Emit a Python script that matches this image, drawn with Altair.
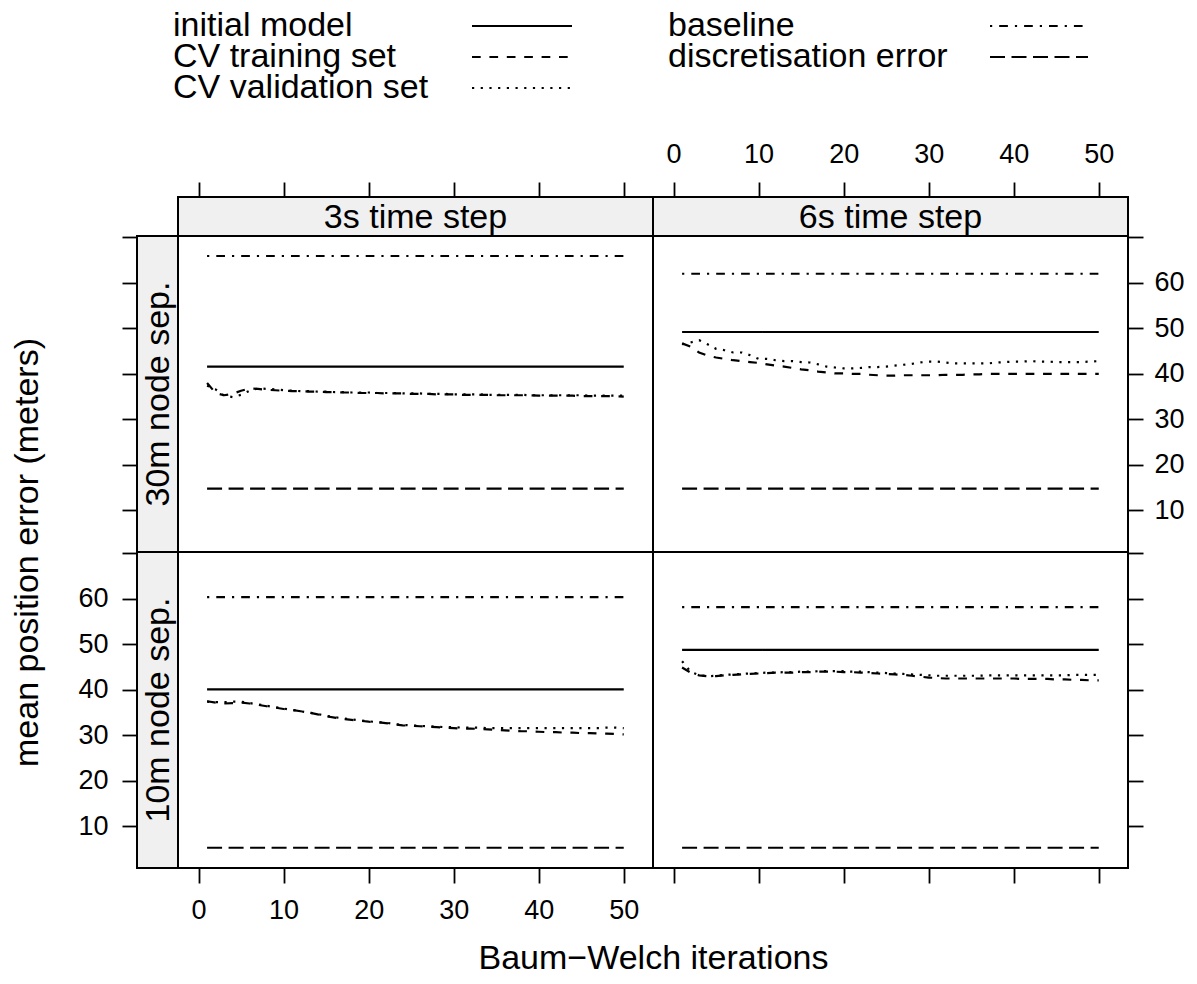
import altair as alt
import pandas as pd

FONT = "Liberation Sans"

iterations = list(range(1, 51))
time_steps = ["3s time step", "6s time step"]
node_seps = ["30m node sep.", "10m node sep."]
series_names = ["initial model", "CV training set", "CV validation set",
                "baseline", "discretisation error"]
dash_styles = [[1, 0], [8.7, 8.7], [2.2, 6.5], [2.2, 7, 8.7, 7], [15, 6.5]]

x_ticks = [0, 10, 20, 30, 40, 50]
y_ticks = [10, 20, 30, 40, 50, 60, 70]

# constants per panel, order: (3s,30m), (6s,30m), (3s,10m), (6s,10m)
initial_model = [41.6, 49.2, 40.1, 48.8]
baseline = [65.9, 62.0, 60.4, 58.2]
discretisation_error = [14.8, 14.8, 5.3, 5.3]

cv_train_3s_30m = [38.0, 35.8, 35.3, 35.6, 36.3, 36.8, 36.7, 36.5, 36.4, 36.3,
                   36.2, 36.2, 36.1, 36.1, 36.0, 36.0, 35.9, 35.9, 35.8, 35.8,
                   35.8, 35.7, 35.7, 35.7, 35.6, 35.6, 35.6, 35.5, 35.5, 35.5,
                   35.4, 35.4, 35.4, 35.4, 35.3, 35.3, 35.3, 35.3, 35.3, 35.2,
                   35.2, 35.2, 35.2, 35.2, 35.1, 35.1, 35.1, 35.1, 35.1, 35.0]
cv_valid_3s_30m = [37.4, 36.6, 35.2, 34.9, 35.4, 36.3, 36.8, 36.7, 36.6, 36.4,
                   36.3, 36.2, 36.2, 36.1, 36.1, 36.0, 36.0, 35.9, 35.9, 35.9,
                   35.8, 35.8, 35.8, 35.7, 35.7, 35.7, 35.6, 35.6, 35.6, 35.5,
                   35.5, 35.5, 35.5, 35.4, 35.4, 35.4, 35.4, 35.4, 35.3, 35.3,
                   35.3, 35.3, 35.3, 35.3, 35.3, 35.2, 35.2, 35.2, 35.2, 35.2]
cv_train_6s_30m = [46.7, 46.0, 44.7, 44.0, 43.6, 43.3, 43.0, 42.8, 42.6, 42.4,
                   42.1, 41.8, 41.6, 41.3, 41.0, 40.8, 40.5, 40.3, 40.1, 40.1,
                   40.0, 40.0, 39.8, 39.7, 39.6, 39.6, 39.7, 39.7, 39.7, 39.7,
                   39.7, 39.8, 39.8, 39.8, 39.9, 39.9, 40.0, 40.0, 40.0, 40.0,
                   40.0, 40.0, 40.0, 40.0, 40.0, 40.0, 40.0, 40.0, 40.0, 40.0]
cv_valid_6s_30m = [46.5, 46.9, 47.4, 46.5, 45.5, 45.2, 44.7, 44.7, 44.1, 43.3,
                   43.3, 43.0, 42.8, 42.8, 42.6, 42.5, 42.1, 41.6, 41.4, 41.2,
                   41.2, 41.3, 41.5, 41.5, 41.6, 41.8, 42.0, 42.2, 42.5, 42.7,
                   42.7, 42.5, 42.3, 42.3, 42.3, 42.3, 42.3, 42.5, 42.6, 42.7,
                   42.7, 42.8, 42.7, 42.7, 42.6, 42.6, 42.6, 42.6, 42.7, 42.8]
cv_train_3s_10m = [37.5, 37.2, 37.0, 37.1, 37.2, 37.0, 36.7, 36.4, 36.1, 35.8,
                   35.6, 35.3, 35.0, 34.6, 34.2, 33.9, 33.6, 33.4, 33.2, 33.0,
                   32.9, 32.7, 32.4, 32.2, 32.1, 32.0, 31.9, 31.8, 31.7, 31.6,
                   31.5, 31.5, 31.4, 31.3, 31.2, 31.1, 31.0, 30.9, 30.9, 30.8,
                   30.7, 30.7, 30.6, 30.6, 30.5, 30.5, 30.4, 30.4, 30.3, 30.2]
cv_valid_3s_10m = [37.4, 37.3, 37.3, 37.4, 37.4, 37.1, 36.8, 36.5, 36.2, 35.9,
                   35.6, 35.3, 35.0, 34.7, 34.3, 34.0, 33.7, 33.5, 33.3, 33.1,
                   32.9, 32.8, 32.5, 32.3, 32.2, 32.1, 32.0, 31.9, 31.8, 31.8,
                   31.7, 31.7, 31.7, 31.6, 31.6, 31.6, 31.6, 31.6, 31.6, 31.6,
                   31.6, 31.6, 31.6, 31.6, 31.6, 31.6, 31.6, 31.7, 31.7, 31.6]
cv_train_6s_10m = [44.9, 43.8, 43.2, 43.0, 43.0, 43.2, 43.3, 43.4, 43.5, 43.6,
                   43.7, 43.8, 43.8, 43.8, 43.9, 43.9, 44.0, 44.0, 44.0, 43.9,
                   43.9, 43.8, 43.7, 43.6, 43.5, 43.4, 43.3, 43.1, 42.9, 42.7,
                   42.6, 42.5, 42.5, 42.5, 42.5, 42.5, 42.5, 42.5, 42.5, 42.5,
                   42.4, 42.4, 42.4, 42.4, 42.3, 42.3, 42.2, 42.2, 42.1, 42.1]
cv_valid_6s_10m = [46.3, 44.0, 43.2, 43.0, 43.1, 43.3, 43.4, 43.5, 43.6, 43.7,
                   43.8, 43.8, 43.9, 43.9, 44.0, 44.0, 44.1, 44.1, 44.1, 44.1,
                   44.0, 44.0, 43.9, 43.8, 43.7, 43.6, 43.5, 43.4, 43.3, 43.2,
                   43.1, 43.1, 43.1, 43.1, 43.1, 43.1, 43.2, 43.2, 43.2, 43.2,
                   43.2, 43.2, 43.2, 43.2, 43.2, 43.2, 43.3, 43.3, 43.3, 43.3]

cv_train = [cv_train_3s_30m, cv_train_6s_30m, cv_train_3s_10m, cv_train_6s_10m]
cv_valid = [cv_valid_3s_30m, cv_valid_6s_30m, cv_valid_3s_10m, cv_valid_6s_10m]

# ---- layout / style ----
PW, PH = 475, 316
SW, SH = 41, 39
LW, LH = SW + 2 * PW, 95
LINE_W = 2.2
BORDER_W = 2
STRIP_FILL = "#f0f0f0"
TICK = dict(domain=False, grid=False, ticks=True, tickSize=15, tickWidth=1.8,
            tickColor="black", labelFont=FONT, labelFontSize=27, labelColor="black",
            labelOverlap=False, labelFlush=False)
HIDE70 = "datum.value == 70 ? '' : datum.label"

xscale = alt.Scale(domain=[-2.42, 53.44], nice=False, zero=False)
yscale = alt.Scale(domain=[0.85, 70.3], nice=False, zero=False)
dash_scale = alt.Scale(domain=series_names, range=dash_styles)


def panel_df(k):
    rows = []
    vals = [[initial_model[k]] * len(iterations), cv_train[k], cv_valid[k],
            [baseline[k]] * len(iterations), [discretisation_error[k]] * len(iterations)]
    for name, v in zip(series_names, vals):
        for it, val in zip(iterations, v):
            rows.append({"iteration": it, "value": val, "series": name})
    return pd.DataFrame(rows)


def panel(k, xaxis, yaxis):
    return alt.Chart(panel_df(k)).mark_line(color="black", strokeWidth=LINE_W).encode(
        x=alt.X("iteration:Q", scale=xscale, axis=xaxis),
        y=alt.Y("value:Q", scale=yscale, axis=yaxis),
        strokeDash=alt.StrokeDash("series:N", scale=dash_scale, legend=None),
        order=alt.Order("iteration:Q"),
    ).properties(width=PW, height=PH,
                 view=alt.ViewBackground(stroke="black", strokeWidth=BORDER_W))


def col_strip(label, show_labels):
    base = alt.Chart(pd.DataFrame({"iteration": iterations})).mark_point(opacity=0).encode(
        x=alt.X("iteration:Q", scale=xscale,
                axis=alt.Axis(orient="top", values=x_ticks, labels=show_labels,
                              labelPadding=14, title=None, **TICK)),
    )
    txt = alt.Chart(pd.DataFrame({"label": [label]})).mark_text(
        fontSize=34, font=FONT, color="black", baseline="middle", align="center"
    ).encode(text="label:N", x=alt.value(PW / 2), y=alt.value(SH / 2 + 1))
    return alt.layer(base, txt).properties(
        width=PW, height=SH,
        view=alt.ViewBackground(fill=STRIP_FILL, stroke="black", strokeWidth=BORDER_W))


def row_strip(label, show_labels, with_title):
    ax = dict(orient="left", values=y_ticks, labels=show_labels, labelPadding=14,
              labelExpr=HIDE70, **TICK)
    if with_title:
        ax.update(title="mean position error (meters)", titleFont=FONT, titleFontSize=34,
                  titleFontWeight="normal", titleColor="black", titleX=-110, titleY=0,
                  titleAngle=270, titleBaseline="middle", titleAlign="center")
    else:
        ax.update(title=None)
    base = alt.Chart(pd.DataFrame({"value": y_ticks})).mark_point(opacity=0).encode(
        y=alt.Y("value:Q", scale=yscale, axis=alt.Axis(**ax)),
    )
    txt = alt.Chart(pd.DataFrame({"label": [label]})).mark_text(
        fontSize=34, font=FONT, color="black", baseline="middle", align="center", angle=270
    ).encode(text="label:N", x=alt.value(SW / 2 + 1), y=alt.value(PH / 2))
    return alt.layer(base, txt).properties(
        width=SW, height=PH,
        view=alt.ViewBackground(fill=STRIP_FILL, stroke="black", strokeWidth=BORDER_W))


corner = alt.Chart(pd.DataFrame({"a": [0]})).mark_point(opacity=0).encode(
    x=alt.value(0), y=alt.value(0)
).properties(width=SW, height=SH, view=alt.ViewBackground(stroke="transparent"))

x_bottom_labels = alt.Axis(orient="bottom", values=x_ticks, labels=True, labelPadding=14,
                           title="Baum\u2212Welch iterations", titleFont=FONT,
                           titleFontSize=34, titleFontWeight="normal", titleColor="black",
                           titleX=PW, titleY=90, titleBaseline="middle",
                           titleAlign="center", **TICK)
x_bottom_ticks = alt.Axis(orient="bottom", values=x_ticks, labels=False, title=None, **TICK)
y_right_labels = alt.Axis(orient="right", values=y_ticks, labels=True, labelPadding=11,
                          labelExpr=HIDE70, title=None, **TICK)
y_right_ticks = alt.Axis(orient="right", values=y_ticks, labels=False, title=None, **TICK)

grid = alt.concat(
    corner,
    col_strip(time_steps[0], False),
    col_strip(time_steps[1], True),
    row_strip(node_seps[0], False, False),
    panel(0, None, None),
    panel(1, None, y_right_labels),
    row_strip(node_seps[1], True, True),
    panel(2, x_bottom_labels, None),
    panel(3, x_bottom_ticks, y_right_ticks),
    columns=3, spacing=0, bounds="flush",
)

# ---- legend (key above the panels) ----
leg_df = pd.DataFrame({"series": series_names,
                       "idx": list(range(len(series_names)))})
legend_base = alt.Chart(leg_df).transform_calculate(
    col="floor(datum.idx / 3)", row="datum.idx % 3"
).transform_calculate(
    lx="datum.col == 0 ? 36 : 531",
    rx1="datum.col == 0 ? 335 : 853",
    rx2="datum.col == 0 ? 435 : 951",
    ly="14 + 31 * datum.row",
)
lx_scale = alt.Scale(domain=[0, LW], range=[0, LW], nice=False, zero=False)
ly_scale = alt.Scale(domain=[0, LH], range=[0, LH], nice=False, zero=False)
leg_text = legend_base.mark_text(fontSize=34, font=FONT, color="black",
                                 align="left", baseline="middle").encode(
    x=alt.X("lx:Q", scale=lx_scale, axis=None),
    y=alt.Y("ly:Q", scale=ly_scale, axis=None),
    text="series:N",
)
leg_lines = legend_base.mark_rule(color="black", strokeWidth=LINE_W).encode(
    x=alt.X("rx1:Q", scale=lx_scale, axis=None),
    x2="rx2:Q",
    y=alt.Y("ly:Q", scale=ly_scale, axis=None),
    strokeDash=alt.StrokeDash("series:N", scale=dash_scale, legend=None),
)
legend = alt.layer(leg_text, leg_lines).properties(
    width=LW, height=LH, view=alt.ViewBackground(stroke="transparent"))

chart = alt.vconcat(legend, grid, spacing=90, bounds="flush").properties(
    padding=0, background="white")

chart.save("out.html", embed_options={"renderer": "svg", "actions": False})
